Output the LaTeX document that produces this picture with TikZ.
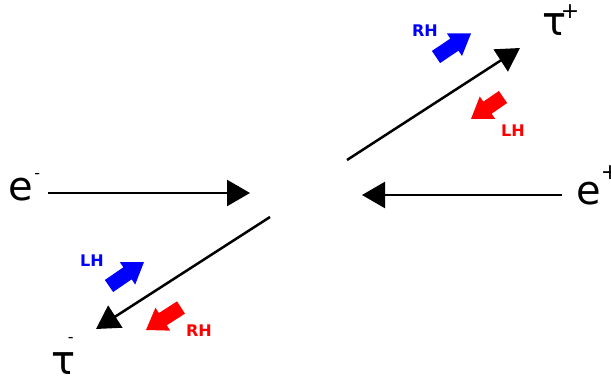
\documentclass[tikz,border=0pt]{standalone}
\usepackage{fontspec}
\setmainfont{DejaVu Sans}
\usetikzlibrary{arrows.meta,calc}
\tikzset{
  particle/.style={inner sep=0pt, anchor=base west, text depth=0pt, font=\fontsize{40}{40}\selectfont},
  beam/.style={line width=2.5pt, -{Triangle[length=23pt,width=26pt]}},
  hel/.style={inner sep=0pt, font=\bfseries\fontsize{16}{16}\selectfont},
}
% block arrow from (#1A) to (#1B), colour #2
\newcommand{\spinarrow}[2]{%
  \coordinate (#1H) at ($(#1B)!20pt!(#1A)$);
  \fill[#2] ($(#1A)!7.3pt!90:(#1B)$) -- ($(#1H)!7.3pt!90:(#1B)$) -- ($(#1H)!13.6pt!90:(#1B)$)
    -- (#1B) -- ($(#1H)!13.6pt!-90:(#1B)$) -- ($(#1H)!7.3pt!-90:(#1B)$) -- ($(#1A)!7.3pt!-90:(#1B)$) -- cycle;
}
\begin{document}
\begin{tikzpicture}[x=1pt,y=-1pt]
\useasboundingbox (0,0) rectangle (611,380);
% particle labels
\node[particle] (em) at (8,200) {e\kern1.5pt\raisebox{21.6pt}{\fontsize{16}{16}\selectfont -}};
\node[particle] (ep) at (576,204) {e\raisebox{24.3pt}{\fontsize{22}{22}\selectfont +}};
\node[particle] (taup) at (542,35) {τ\kern-5.5pt\raisebox{16.3pt}{\fontsize{22}{22}\selectfont +}};
\node[particle] (taum) at (51,374) {τ\kern-7.5pt\raisebox{31.6pt}{\fontsize{16}{16}\selectfont -}};
% beam endpoints
\coordinate (emA) at (48,193);
\coordinate (emB) at (250,193);
\coordinate (epA) at (562,195);
\coordinate (epB) at (362,195);
\coordinate (tpA) at (347,160);
\coordinate (tpB) at (520,48);
\coordinate (tmA) at (270,217);
\coordinate (tmB) at (96,329);
\draw[beam] (emA) -- (emB);
\draw[beam] (epA) -- (epB);
\draw[beam] (tpA) -- (tpB);
\draw[beam] (tmA) -- (tmB);
% helicity arrows
\coordinate (saA) at (436,57);
\coordinate (saB) at (471,33.5);
\coordinate (taA) at (503,97);
\coordinate (taB) at (471,119);
\coordinate (tbA) at (109,286);
\coordinate (tbB) at (144,262);
\coordinate (tcA) at (181,307.5);
\coordinate (tcB) at (146,330);
\spinarrow{sa}{blue}
\spinarrow{ta}{red}
\spinarrow{tb}{blue}
\spinarrow{tc}{red}
\node[hel, blue] (rh1) at (425,31) {RH};
\node[hel, red] (lh1) at (513,131) {LH};
\node[hel, blue] (lh2) at (92,260.5) {LH};
\node[hel, red] (rh2) at (199,331) {RH};
\end{tikzpicture}
\end{document}
